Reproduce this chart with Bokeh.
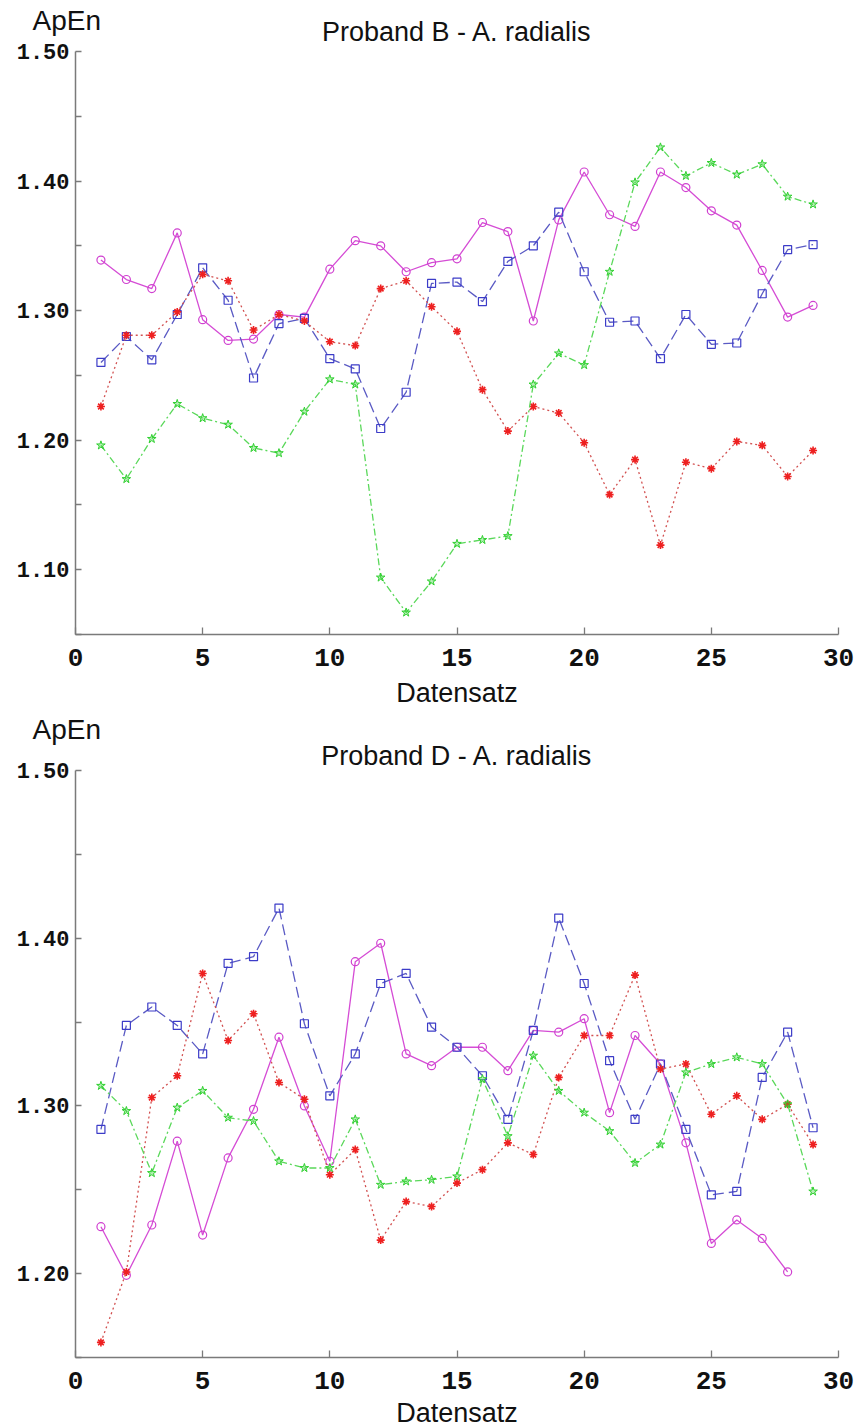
from bokeh.plotting import figure
from bokeh.layouts import column
from bokeh.models import Label, FixedTicker, PrintfTickFormatter, Range1d
from bokeh.embed import file_html
from bokeh.resources import INLINE

# record number (Datensatz) on the x axis
datensatz = list(range(1, 30))

# Proband B - A. radialis
b_magenta = [1.339, 1.324, 1.317, 1.360, 1.293, 1.277, 1.278, 1.297, 1.295, 1.332,
             1.354, 1.350, 1.330, 1.337, 1.340, 1.368, 1.361, 1.292, 1.370, 1.407,
             1.374, 1.365, 1.407, 1.395, 1.377, 1.366, 1.331, 1.295, 1.304]
b_blue = [1.260, 1.280, 1.262, 1.297, 1.333, 1.308, 1.248, 1.290, 1.294, 1.263,
          1.255, 1.209, 1.237, 1.321, 1.322, 1.307, 1.338, 1.350, 1.376, 1.330,
          1.291, 1.292, 1.263, 1.297, 1.274, 1.275, 1.313, 1.347, 1.351]
b_red = [1.226, 1.281, 1.281, 1.299, 1.328, 1.323, 1.285, 1.297, 1.292, 1.276,
         1.273, 1.317, 1.323, 1.303, 1.284, 1.239, 1.207, 1.226, 1.221, 1.198,
         1.158, 1.185, 1.119, 1.183, 1.178, 1.199, 1.196, 1.172, 1.192]
b_green = [1.196, 1.170, 1.201, 1.228, 1.217, 1.212, 1.194, 1.190, 1.222, 1.247,
           1.243, 1.094, 1.067, 1.091, 1.120, 1.123, 1.126, 1.243, 1.267, 1.258,
           1.330, 1.399, 1.426, 1.404, 1.414, 1.405, 1.413, 1.388, 1.382]

# Proband D - A. radialis (magenta series ends at record 28)
d_magenta = [1.228, 1.199, 1.229, 1.279, 1.223, 1.269, 1.298, 1.341, 1.300, 1.267,
             1.386, 1.397, 1.331, 1.324, 1.335, 1.335, 1.321, 1.345, 1.344, 1.352,
             1.296, 1.342, 1.325, 1.278, 1.218, 1.232, 1.221, 1.201]
d_blue = [1.286, 1.348, 1.359, 1.348, 1.331, 1.385, 1.389, 1.418, 1.349, 1.306,
          1.331, 1.373, 1.379, 1.347, 1.335, 1.318, 1.292, 1.345, 1.412, 1.373,
          1.327, 1.292, 1.325, 1.286, 1.247, 1.249, 1.317, 1.344, 1.287]
d_red = [1.159, 1.201, 1.305, 1.318, 1.379, 1.339, 1.355, 1.314, 1.304, 1.259,
         1.274, 1.220, 1.243, 1.240, 1.254, 1.262, 1.278, 1.271, 1.317, 1.342,
         1.342, 1.378, 1.322, 1.325, 1.295, 1.306, 1.292, 1.301, 1.277]
d_green = [1.312, 1.297, 1.260, 1.299, 1.309, 1.293, 1.291, 1.267, 1.263, 1.263,
           1.292, 1.253, 1.255, 1.256, 1.258, 1.316, 1.282, 1.330, 1.309, 1.296,
           1.285, 1.266, 1.277, 1.320, 1.325, 1.329, 1.325, 1.301, 1.249]

x_ticks = [0, 5, 10, 15, 20, 25, 30]
y_ticks = [1.10, 1.20, 1.30, 1.40, 1.50]
y_minor_ticks = [1.05, 1.15, 1.25, 1.35, 1.45]

SANS = "Liberation Sans"
MONO = "Liberation Mono"
AXIS_GREY = "#7a7a7a"
INK = "#111111"

STYLES = {
    "magenta": dict(line="#d54cd5", mark="#d040d0", dash="solid", marker="circle", size=8),
    "blue": dict(line="#5a5ac4", mark="#3c3cc8", dash="11 5", marker="square", size=8),
    "red": dict(line="#d25050", mark="#ee2020", dash="2 3", marker="asterisk", size=8),
    "green": dict(line="#5ad85a", mark="#30d030", dash="7 3 2 3", marker="star", size=9),
}

# page geometry in pixels: axis origin 75 px from the left edge, axis end 16 px from the right
W = 854
LEFT_PAD, RIGHT_PAD = 75, 16
X_MIN, X_MAX = 0, 30
Y_MAX = 1.50


def make_panel(title, series, y_lo, height, gap_top, gap_bottom,
               apen_up, title_up, xlabel_down):
    """The plot area fills the whole canvas, so the heading and axis-name texts
    sit inside it; both axes are pinned to the data box."""
    x_per_px = (X_MAX - X_MIN) / (W - RIGHT_PAD - LEFT_PAD)
    y_per_px = (Y_MAX - y_lo) / (height - gap_top - gap_bottom)

    p = figure(width=W, height=height, output_backend="svg", toolbar_location=None,
               x_range=Range1d(X_MIN - LEFT_PAD * x_per_px, X_MAX + RIGHT_PAD * x_per_px),
               y_range=Range1d(y_lo - gap_bottom * y_per_px, Y_MAX + gap_top * y_per_px),
               min_border_left=0, min_border_right=0,
               min_border_top=0, min_border_bottom=0)
    p.outline_line_color = None
    p.grid.visible = False
    p.background_fill_color = "white"

    for name, ys in series:
        st = STYLES[name]
        xs = datensatz[:len(ys)]
        p.line(xs, ys, line_color=st["line"], line_width=1.3, line_dash=st["dash"])
        if st["marker"] == "asterisk":
            p.scatter(xs, ys, marker="asterisk", size=st["size"], line_color=st["mark"],
                      line_width=1.6)
        elif st["marker"] == "star":
            p.scatter(xs, ys, marker="star", size=st["size"], line_color=st["mark"],
                      fill_color=st["mark"], fill_alpha=0.35, line_width=1)
        else:
            p.scatter(xs, ys, marker=st["marker"], size=st["size"], line_color=st["mark"],
                      fill_color=None, line_width=1.2)

    # x axis drawn at y = y_lo, limited to 0..30
    xa = p.xaxis[0]
    xa.fixed_location = y_lo
    xa.bounds = (X_MIN, X_MAX)
    xa.ticker = FixedTicker(ticks=x_ticks)
    xa.axis_line_color = AXIS_GREY
    xa.axis_line_width = 1.5
    xa.major_tick_line_color = AXIS_GREY
    xa.major_tick_line_width = 1.3
    xa.major_tick_in = 7
    xa.major_tick_out = 0
    xa.minor_tick_line_color = None
    xa.major_label_text_font = MONO
    xa.major_label_text_font_style = "bold"
    xa.major_label_text_font_size = "26px"
    xa.major_label_text_color = INK
    xa.major_label_standoff = 14

    # y axis drawn at x = 0, limited to y_lo..1.50
    ya = p.yaxis[0]
    ya.fixed_location = X_MIN
    ya.bounds = (y_lo, Y_MAX)
    ya.ticker = FixedTicker(ticks=y_ticks, minor_ticks=y_minor_ticks)
    ya.formatter = PrintfTickFormatter(format="%.2f")
    ya.axis_line_color = AXIS_GREY
    ya.axis_line_width = 1.5
    ya.major_tick_line_color = AXIS_GREY
    ya.minor_tick_line_color = AXIS_GREY
    ya.major_tick_line_width = 1.3
    ya.minor_tick_line_width = 1.3
    ya.major_tick_in = 6
    ya.major_tick_out = 0
    ya.minor_tick_in = 6
    ya.minor_tick_out = 0
    ya.major_label_text_font = MONO
    ya.major_label_text_font_style = "bold"
    ya.major_label_text_font_size = "22px"
    ya.major_label_text_color = INK
    ya.major_label_standoff = 6

    mid_x = (X_MIN + X_MAX) / 2
    # heading above the data box
    p.add_layout(Label(x=mid_x, y=Y_MAX + title_up * y_per_px, text=title,
                       text_font=SANS, text_font_size="27px", text_color=INK,
                       text_align="center", text_baseline="middle"))
    # value-axis name, top left
    p.add_layout(Label(x=X_MIN - 43 * x_per_px, y=Y_MAX + apen_up * y_per_px, text="ApEn",
                       text_font=SANS, text_font_size="28px", text_color=INK,
                       text_align="left", text_baseline="middle"))
    # record-axis name, under the tick labels
    p.add_layout(Label(x=mid_x, y=y_lo - xlabel_down * y_per_px, text="Datensatz",
                       text_font=SANS, text_font_size="27px", text_color=INK,
                       text_align="center", text_baseline="middle"))
    return p


top = make_panel("Proband B - A. radialis",
                 [("magenta", b_magenta), ("blue", b_blue), ("red", b_red), ("green", b_green)],
                 y_lo=1.05, height=713, gap_top=51, gap_bottom=79,
                 apen_up=31, title_up=20, xlabel_down=58)
bottom = make_panel("Proband D - A. radialis",
                    [("magenta", d_magenta), ("blue", d_blue), ("red", d_red), ("green", d_green)],
                    y_lo=1.15, height=714, gap_top=57, gap_bottom=70,
                    apen_up=41, title_up=15, xlabel_down=55)

layout = column(top, bottom)
open("out.html", "w").write(file_html(layout, INLINE))
